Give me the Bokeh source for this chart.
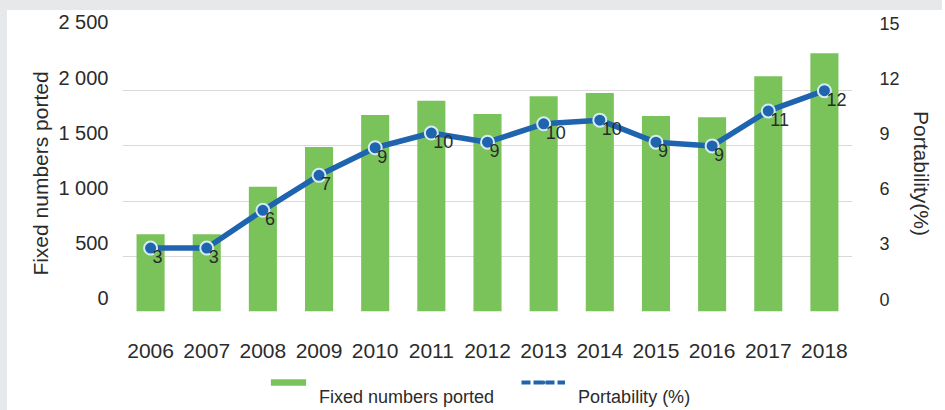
from bokeh.plotting import figure
from bokeh.layouts import column
from bokeh.models import (Range1d, LinearAxis, FixedTicker, FactorRange,
                          ColumnDataSource, Legend, LegendItem)
from bokeh.core.properties import value
from bokeh.embed import file_html
from bokeh.resources import INLINE

# ---- data ----
years = ["2006", "2007", "2008", "2009", "2010", "2011", "2012",
         "2013", "2014", "2015", "2016", "2017", "2018"]
fixed_ported = [700, 700, 1130, 1490, 1780, 1910, 1790, 1950, 1980, 1770, 1760, 2130, 2340]
portability = [3.45, 3.45, 5.5, 7.4, 8.9, 9.7, 9.2, 10.2, 10.4, 9.2, 9.0, 10.9, 12.0]
portability_labels = ["3", "3", "6", "7", "9", "10", "9", "10", "10", "9", "9", "11", "12"]
left_ticks = [0, 500, 1000, 1500, 2000, 2500]
right_ticks = [0, 3, 6, 9, 12, 15]
series_names = ["Fixed numbers ported", "Portability (%)"]
left_title = "Fixed numbers ported"
right_title = "Portability(%)"

FONT = "Liberation Sans"
GREEN = "#7ac35b"
BLUE = "#1f64ae"
TXT = "#2b2b2b"
W = 935

src = ColumnDataSource(dict(year=years, fixed=fixed_ported, pct=portability,
                            lbl=portability_labels))

p = figure(x_range=FactorRange(factors=years, range_padding=0),
           y_range=Range1d(0, 2500),
           frame_width=730, frame_height=276,
           min_border_left=115, min_border_right=90,
           min_border_top=25, min_border_bottom=60,
           output_backend="svg", toolbar_location=None)
p.extra_y_ranges = {"pct": Range1d(0, 15)}
p.outline_line_color = None
p.background_fill_color = "white"
p.border_fill_color = "white"

bars = p.vbar(x="year", top="fixed", width=0.5, source=src,
              fill_color=GREEN, line_color=None)
line = p.line(x="year", y="pct", source=src, y_range_name="pct",
              line_color=BLUE, line_width=5.5)
pts = p.scatter(x="year", y="pct", source=src, y_range_name="pct", size=13,
                fill_color=BLUE, line_color="#d5ecf7", line_width=2)
p.text(x="year", y="pct", text="lbl", source=src, y_range_name="pct",
       x_offset=2, y_offset=2, text_align="left", text_baseline="top",
       text_font=value(FONT), text_font_size="18px", text_color=TXT)

# grid
p.xgrid.grid_line_color = None
p.ygrid.grid_line_color = "#d9d9d9"
p.ygrid.grid_line_width = 1
p.ygrid.ticker = FixedTicker(ticks=left_ticks)

# left axis
ya = p.yaxis[0]
ya.ticker = FixedTicker(ticks=left_ticks)
ya.major_label_overrides = {t: f"{t:,}".replace(",", " ") + "\n " for t in left_ticks}
ya.axis_label = left_title

# right axis
ra = LinearAxis(y_range_name="pct", ticker=FixedTicker(ticks=right_ticks),
                axis_label=right_title)
ra.major_label_overrides = {t: f"{t}\n " for t in right_ticks}
p.add_layout(ra, "right")

xa = p.xaxis[0]
for ax in (ya, ra, xa):
    ax.axis_line_color = None
    ax.major_tick_line_color = None
    ax.minor_tick_line_color = None
    ax.major_tick_out = 0
    ax.major_tick_in = 0
    ax.minor_tick_out = 0
    ax.major_label_text_font = FONT
    ax.major_label_text_color = TXT
    ax.axis_label_text_font = FONT
    ax.axis_label_text_font_style = "normal"
    ax.axis_label_text_font_size = "21px"
    ax.axis_label_text_color = TXT
ya.major_label_text_font_size = "20px"
ya.major_label_standoff = 14
ya.axis_label_standoff = 3
ra.major_label_text_font_size = "18px"
ra.major_label_standoff = 27
ra.axis_label_standoff = 7
xa.major_label_text_font_size = "21px"
xa.major_label_standoff = 32

# ---- legend strip below the chart ----
q = figure(width=W, height=39, x_range=Range1d(0, 1), y_range=Range1d(0, 1),
           min_border=0, x_axis_location=None, y_axis_location=None,
           output_backend="svg", toolbar_location=None)
q.outline_line_color = None
q.xgrid.visible = False
q.ygrid.visible = False
q.border_fill_color = "white"
# sample swatches live outside the visible range; only their legend glyphs show
off = ColumnDataSource(dict(x=[-5.0], y=[-5.0]))
lg_bar = q.vbar(x="x", top="y", width=0.5, source=off, fill_color=GREEN, line_color=None)
lg_line = q.line(x="x", y="y", source=off, line_color=BLUE, line_width=4, line_dash="9 3")
lg_pt = q.scatter(x="x", y="y", source=off, size=6, fill_color=BLUE, line_color=BLUE)
ghost_a = q.vbar(x="x", top="y", width=0.5, source=off, fill_alpha=0, line_alpha=0)
ghost_b = q.vbar(x="x", top="y", width=0.5, source=off, fill_alpha=0, line_alpha=0)

common = dict(orientation="horizontal", glyph_width=44, glyph_height=8,
              label_standoff=9, spacing=31, label_text_font=FONT,
              label_text_font_size="18px", label_text_color=TXT,
              padding=0, margin=0, border_line_color=None,
              background_fill_alpha=0)
legend_marks = Legend(items=[LegendItem(label="\u00a0", renderers=[lg_bar]),
                             LegendItem(label="\u00a0", renderers=[lg_line, lg_pt])],
                      location=(144, 18), label_width=171, **common)
legend_text = Legend(items=[LegendItem(label=series_names[0], renderers=[ghost_a]),
                            LegendItem(label=series_names[1], renderers=[ghost_b])],
                     location=(144, 2), **common)
q.add_layout(legend_marks, "center")
q.add_layout(legend_text, "center")

page = column(p, q, spacing=0,
              styles={"background-color": "white",
                      "border-top": "10px solid #e7e8e9",
                      "border-left": "7px solid #e7e8e9"})
open("out.html", "w").write(file_html(page, INLINE))
